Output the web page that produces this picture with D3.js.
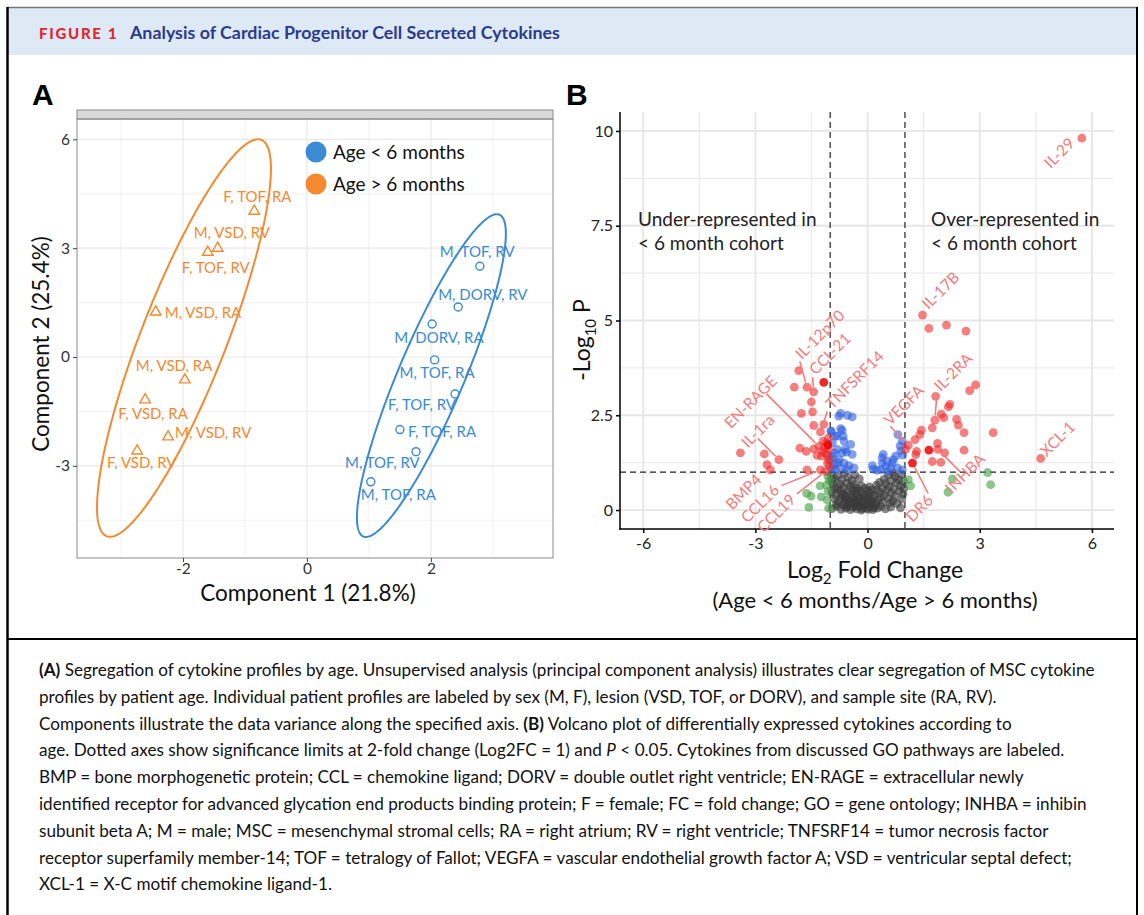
<!DOCTYPE html>
<html>
<head>
<meta charset="utf-8">
<script src="https://cdn.jsdelivr.net/npm/d3@7"></script>
<style>
  body { margin: 0; background: #fff; }
  svg { display: block; }
</style>
</head>
<body>
<div id="fig"></div>
<script>
// ---------- panel A data (PCA scores) ----------
const groups = ["Age < 6 months", "Age > 6 months"];
const groupColors = ["#3a8bd3", "#f4892f"];

const youngLabels = ["M, TOF, RV", "M, DORV, RV", "M, DORV, RA", "M, TOF, RA", "F, TOF, RV", "F, TOF, RA", "M, TOF, RV", "M, TOF, RA"];
const youngPC1 = [2.79, 2.44, 2.02, 2.06, 2.39, 1.50, 1.76, 1.03];
const youngPC2 = [2.50, 1.38, 0.91, -0.08, -1.02, -2.00, -2.61, -3.44];

const oldLabels = ["F, TOF, RA", "M, VSD, RV", "F, TOF, RV", "M, VSD, RA", "M, VSD, RA", "F, VSD, RA", "M, VSD, RV", "F, VSD, RV"];
const oldPC1 = [-0.85, -1.44, -1.60, -2.44, -1.97, -2.61, -2.24, -2.74];
const oldPC2 = [4.02, 3.00, 2.89, 1.24, -0.63, -1.18, -2.20, -2.59];

// confidence ellipses: centre x, centre y, conjugate semi-axis A (x, y), semi-axis B (x)
const youngEllipse = [2.008, -0.512, 1.056, 4.448, 0.573];
const oldEllipse = [-1.984, 0.523, 1.194, 5.478, 0.737];

const pcaXTicks = [-2, 0, 2];
const pcaYTicks = [-3, 0, 3, 6];

// ---------- panel B data (volcano: log2FC, -log10 P) ----------
const redPoints = [
  [-1.84,3.68],[-1.96,3.24],[-1.62,3.24],[-1.44,3.12],[-1.50,2.85],[-1.77,2.55],[-1.47,2.59],
  [-1.44,2.23],[-1.17,2.26],[-1.26,2.06],[-1.10,1.77],[-1.19,1.82],[-1.81,1.63],[-1.64,1.55],
  [-1.44,1.61],[-1.30,1.68],[-1.21,1.55],[-1.35,1.44],[-1.23,1.42],[-1.13,1.51],[-1.04,1.61],
  [-3.40,1.51],[-2.76,1.48],[-2.37,1.33],[-2.69,1.20],[-2.60,1.06],[-1.62,1.06],[-1.26,1.06],
  [-1.12,1.02],[-1.04,1.33],[-1.07,1.24],[-1.05,1.90],[-1.15,1.65],[-1.08,1.45],[-1.02,1.15],
  [1.47,5.14],[1.64,4.79],[2.11,4.88],[2.63,4.72],[2.89,3.30],[2.73,3.15],[1.82,3.00],[2.20,2.79],
  [2.16,2.72],[1.97,2.53],[2.04,2.44],[2.38,2.39],[2.43,2.24],[1.80,2.37],[1.73,2.17],[1.44,2.11],
  [1.40,1.99],[2.58,2.04],[3.36,2.04],[1.27,1.86],[1.09,1.71],[1.87,1.76],[1.88,1.60],
  [2.06,1.51],[2.58,1.58],[1.31,1.55],[1.29,1.46],[1.73,1.28],[1.96,1.26],[1.02,1.60],[4.63,1.36],
  [5.73,9.81]
];
const darkRedPoints = [[-1.17,3.37],[-1.06,1.72],[1.64,1.58],[1.20,1.24]];
const bluePoints = [
  [-0.72,2.55],[-0.54,2.50],[-0.41,2.46],[-0.97,2.07],[-0.68,2.10],[-0.86,1.95],[-0.94,1.77],
  [-0.63,1.82],[-0.45,1.73],[-0.81,1.60],[-0.68,1.51],[-0.56,1.53],[-0.41,1.47],[-0.94,1.42],
  [-0.76,1.33],[-0.63,1.24],[-0.50,1.17],[-0.90,1.20],[-0.99,1.33],[-0.72,1.11],[-0.54,1.06],
  [-0.86,1.06],[-0.36,1.11],[-0.98,2.09],[-0.72,2.15],[-0.65,1.95],[-0.81,1.95],[-0.77,2.48],
  [-0.60,1.60],[-0.88,1.50],[-0.80,1.25],[-0.95,1.10],
  [0.81,1.99],[0.93,1.82],[0.87,1.69],[0.89,1.56],[0.75,1.42],[0.39,1.38],[0.53,1.29],[0.66,1.24],
  [0.39,1.24],[0.13,1.17],[0.48,1.15],[0.62,1.11],[0.35,1.06],[0.80,1.11],[0.93,1.06],[0.53,1.02],
  [0.94,1.45],[0.69,1.33],[0.42,1.47],[0.15,1.08],[0.25,1.05]
];
const greenPoints = [
  [-1.63,0.44],[-1.51,0.37],[-1.27,0.64],[-1.24,0.35],[-1.57,0.07],[-1.06,0.89],[-1.10,0.66],
  [-1.06,0.49],[-1.08,0.27],[-1.04,0.05],[-1.02,0.78],
  [1.09,0.80],[1.15,0.64],[2.27,0.82],[2.15,0.47],[3.21,0.99],[3.29,0.67]
];
const grayPoints = [
  [-0.95,0.04],[-0.82,0.10],[-0.71,0.02],[-0.64,0.12],[-0.58,0.05],[-0.51,0.14],[-0.46,0.01],
  [-0.40,0.08],[-0.35,0.15],[-0.29,0.03],[-0.22,0.11],[-0.17,0.00],[-0.11,0.07],[-0.05,0.13],
  [0.02,0.02],[0.08,0.09],[0.14,0.01],[0.21,0.12],[0.27,0.05],[0.36,0.10],[0.48,0.03],[0.62,0.08],
  [0.88,0.06],[-0.31,0.09],[-0.02,0.05],[0.17,0.06],[-0.55,0.09],[-0.26,0.14],[0.05,0.14],[-0.14,0.04],
  [-0.90,0.30],[-0.77,0.22],[-0.69,0.33],[-0.62,0.19],[-0.57,0.27],[-0.50,0.21],[-0.44,0.32],
  [-0.38,0.18],[-0.33,0.26],[-0.27,0.20],[-0.21,0.31],[-0.15,0.17],[-0.09,0.25],[-0.03,0.19],
  [0.03,0.28],[0.09,0.21],[0.15,0.33],[0.22,0.18],[0.29,0.27],[0.41,0.20],[0.55,0.31],[0.68,0.24],
  [0.79,0.17],[0.92,0.29],[-0.47,0.25],[-0.12,0.30],[0.12,0.24],[-0.36,0.33],[-0.60,0.35],
  [0.35,0.34],[-0.24,0.24],[0.00,0.34],[0.61,0.19],[-0.83,0.16],
  [-0.96,0.48],[-0.85,0.40],[-0.74,0.52],[-0.66,0.44],[-0.59,0.38],[-0.52,0.49],[-0.45,0.41],
  [-0.39,0.54],[-0.32,0.45],[-0.26,0.37],[-0.19,0.50],[-0.13,0.42],[-0.06,0.38],[0.01,0.51],
  [0.07,0.44],[0.18,0.40],[0.26,0.53],[0.33,0.46],[0.45,0.39],[0.51,0.52],[0.64,0.45],[0.73,0.37],
  [0.85,0.50],[0.95,0.42],[-0.70,0.40],[-0.28,0.52],[0.12,0.53],
  [-0.93,0.70],[-0.81,0.60],[-0.73,0.68],[-0.64,0.58],[-0.55,0.71],[-0.47,0.62],[-0.37,0.67],
  [-0.30,0.59],[-0.16,0.64],[-0.08,0.57],[0.05,0.61],[0.24,0.66],[0.40,0.58],[0.49,0.70],
  [0.58,0.62],[0.70,0.56],[0.77,0.72],[0.88,0.63],[0.97,0.57],[-0.88,0.56],[0.32,0.73],
  [-0.97,0.94],[-0.89,0.83],[-0.79,0.91],[-0.70,0.79],[-0.62,0.97],[-0.53,0.86],[-0.42,0.78],
  [-0.34,0.93],[-0.22,0.82],[0.44,0.81],[0.56,0.93],[0.63,0.77],[0.74,0.88],[0.83,0.80],
  [0.91,0.95],[0.96,0.76],[-0.95,0.78],[0.69,0.98]
];

// labelled cytokines
const geneNames = ["IL-29", "IL-17B", "IL-12p70", "CCL-21", "TNFSRF14", "EN-RAGE", "IL-1ra", "BMP4", "CCL16", "CCL19", "VEGFA", "IL-2RA", "XCL-1", "INHBA", "DR6"];
const geneFC = [5.73, 1.47, -1.62, -1.44, -1.26, -1.30, -2.37, -2.60, -1.26, -1.12, 1.09, 1.80, 4.63, 1.88, 1.20];
const geneLogP = [9.81, 5.14, 3.24, 3.12, 2.06, 1.68, 1.33, 1.06, 1.06, 1.02, 1.71, 2.37, 1.36, 1.60, 1.24];

const volcanoXTicks = [-6, -3, 0, 3, 6];
const volcanoYTicks = [0, 2.5, 5, 7.5, 10];

// where each label sits (pixel shift of text start from its point)
const labelShift = [[-31,31],[6,-5],[-5,-27],[2,-16],[12,-22],[-88,-17],[-31,-11],[-38,41],[-73,54],[-62,62],[-18,-19],[6,-28],[6,-1],[14,45],[0,60]];

// caption
const captionLines = [
  [["(A)", "b"], [" Segregation of cytokine profiles by age. Unsupervised analysis (principal component analysis) illustrates clear segregation of MSC cytokine"]],
  [["profiles by patient age. Individual patient profiles are labeled by sex (M, F), lesion (VSD, TOF, or DORV), and sample site (RA, RV)."]],
  [["Components illustrate the data variance along the specified axis. "], ["(B)", "b"], [" Volcano plot of differentially expressed cytokines according to"]],
  [["age. Dotted axes show significance limits at 2-fold change (Log2FC = 1) and "], ["P", "i"], [" < 0.05. Cytokines from discussed GO pathways are labeled."]],
  [["BMP = bone morphogenetic protein; CCL = chemokine ligand; DORV = double outlet right ventricle; EN-RAGE = extracellular newly"]],
  [["identified receptor for advanced glycation end products binding protein; F = female; FC = fold change; GO = gene ontology; INHBA = inhibin"]],
  [["subunit beta A; M = male; MSC = mesenchymal stromal cells; RA = right atrium; RV = right ventricle; TNFSRF14 = tumor necrosis factor"]],
  [["receptor superfamily member-14; TOF = tetralogy of Fallot; VEGFA = vascular endothelial growth factor A; VSD = ventricular septal defect;"]],
  [["XCL-1 = X-C motif chemokine ligand-1."]]
];

// ---------- drawing ----------
const W = 1144, H = 915;
const FONT = "Lato, 'Open Sans', sans-serif";
const svg = d3.select("#fig").append("svg").attr("width", W).attr("height", H)
  .style("font-family", FONT);

// frame + header
svg.append("rect").attr("x", 8).attr("y", 8).attr("width", 1129).attr("height", 47).attr("fill", "#dde9f5");
svg.append("line").attr("x1", 7).attr("x2", 1138).attr("y1", 7.5).attr("y2", 7.5).attr("stroke", "#777").attr("stroke-width", 1.5);
svg.append("line").attr("x1", 7.5).attr("x2", 7.5).attr("y1", 7).attr("y2", H).attr("stroke", "#000").attr("stroke-width", 2.5);
svg.append("line").attr("x1", 1137).attr("x2", 1137).attr("y1", 7).attr("y2", H).attr("stroke", "#000").attr("stroke-width", 2);
svg.append("line").attr("x1", 7).attr("x2", 1138).attr("y1", 639).attr("y2", 639).attr("stroke", "#000").attr("stroke-width", 2);

svg.append("text").attr("x", 39).attr("y", 39)
  .attr("fill", "#e4262d").style("font-weight", 900).style("font-size", "15px").style("letter-spacing", "1.7px")
  .text("FIGURE 1");
const title = svg.append("text").attr("x", 130).attr("y", 39)
  .attr("fill", "#2d3a8c").style("font-weight", 700).style("font-size", "16px")
  .text("Analysis of Cardiac Progenitor Cell Secreted Cytokines");
title.style("font-size", (16 * 430 / title.node().getComputedTextLength()) + "px");

// panel letters
svg.append("text").attr("x", 32).attr("y", 105).style("font-family", "'Liberation Sans', Arial, sans-serif")
  .style("font-weight", 700).style("font-size", "30px").text("A");
svg.append("text").attr("x", 566).attr("y", 105).style("font-family", "'Liberation Sans', Arial, sans-serif")
  .style("font-weight", 700).style("font-size", "30px").text("B");

// ===== Panel A =====
const ax = d3.scaleLinear().domain([-3.71, 3.97]).range([77, 553]);
const ay = d3.scaleLinear().domain([-5.54, 6.56]).range([558, 119]);
const gA = svg.append("g");

// grid
const minorX = [-3, -1, 1, 3], minorY = [-4.5, -1.5, 1.5, 4.5];
gA.selectAll(".mnx").data(minorX).join("line")
  .attr("x1", d => ax(d)).attr("x2", d => ax(d)).attr("y1", 119).attr("y2", 558)
  .attr("stroke", "#f1f1f1").attr("stroke-width", 0.9);
gA.selectAll(".mny").data(minorY).join("line")
  .attr("y1", d => ay(d)).attr("y2", d => ay(d)).attr("x1", 77).attr("x2", 553)
  .attr("stroke", "#f1f1f1").attr("stroke-width", 0.9);
gA.selectAll(".mjx").data(pcaXTicks).join("line")
  .attr("x1", d => ax(d)).attr("x2", d => ax(d)).attr("y1", 119).attr("y2", 558)
  .attr("stroke", "#e8e8e8").attr("stroke-width", 1.2);
gA.selectAll(".mjy").data(pcaYTicks).join("line")
  .attr("y1", d => ay(d)).attr("y2", d => ay(d)).attr("x1", 77).attr("x2", 553)
  .attr("stroke", "#e8e8e8").attr("stroke-width", 1.2);

// strip + border
gA.append("rect").attr("x", 77).attr("y", 110).attr("width", 476).attr("height", 9)
  .attr("fill", "#d9d9d9").attr("stroke", "#8a8a8a").attr("stroke-width", 1);
gA.append("rect").attr("x", 77).attr("y", 119).attr("width", 476).attr("height", 439)
  .attr("fill", "none").attr("stroke", "#8a8a8a").attr("stroke-width", 1);

// axes
const axA_y = gA.append("g").attr("transform", "translate(77,0)")
  .call(d3.axisLeft(ay).tickValues(pcaYTicks).tickSize(4).tickPadding(3));
const axA_x = gA.append("g").attr("transform", "translate(0,558)")
  .call(d3.axisBottom(ax).tickValues(pcaXTicks).tickSize(4).tickPadding(1));
[axA_y, axA_x].forEach(g => {
  g.select(".domain").remove();
  g.selectAll("line").attr("stroke", "#444");
  g.selectAll("text").attr("fill", "#333").style("font-size", "15.5px").style("font-family", FONT)
    .text(d => d < 0 ? "-" + Math.abs(d) : d);
});

// ellipses
function ellipsePath(e) {
  const ts = d3.range(0, 2 * Math.PI + 0.01, 0.02);
  return d3.line()
    .x(t => ax(e[0] + e[2] * Math.cos(t) + e[4] * Math.sin(t)))
    .y(t => ay(e[1] + e[3] * Math.cos(t)))(ts);
}
gA.append("path").attr("d", ellipsePath(youngEllipse)).attr("fill", "none")
  .attr("stroke", groupColors[0]).attr("stroke-width", 2);
gA.append("path").attr("d", ellipsePath(oldEllipse)).attr("fill", "none")
  .attr("stroke", groupColors[1]).attr("stroke-width", 2);

// points
gA.selectAll(".yp").data(youngPC1).join("circle")
  .attr("cx", d => ax(d)).attr("cy", (d, i) => ay(youngPC2[i])).attr("r", 4)
  .attr("fill", "none").attr("stroke", groupColors[0]).attr("stroke-width", 1.4);
const tri = d3.symbol(d3.symbolTriangle, 48);
gA.selectAll(".op").data(oldPC1).join("path")
  .attr("d", tri).attr("transform", (d, i) => `translate(${ax(d)},${ay(oldPC2[i])})`)
  .attr("fill", "none").attr("stroke", groupColors[1]).attr("stroke-width", 1.4);

// point labels (dx, dy from the point to text start)
const youngShift = [[-40,-9],[-20,-7],[-38,19],[-35,18],[-67,16],[8,7],[-71,16],[-10,18]];
const oldShift = [[-31,-9],[-24,-10],[-26,21],[9,6],[-49,-9],[-27,19],[7,1],[-30,17]];
gA.selectAll(".yl").data(youngLabels).join("text")
  .attr("x", (d, i) => ax(youngPC1[i]) + youngShift[i][0])
  .attr("y", (d, i) => ay(youngPC2[i]) + youngShift[i][1])
  .attr("fill", groupColors[0]).style("font-size", "15px").text(d => d);
gA.selectAll(".ol").data(oldLabels).join("text")
  .attr("x", (d, i) => ax(oldPC1[i]) + oldShift[i][0])
  .attr("y", (d, i) => ay(oldPC2[i]) + oldShift[i][1])
  .attr("fill", groupColors[1]).style("font-size", "15px").text(d => d);

// legend
groups.forEach((g, i) => {
  gA.append("circle").attr("cx", 316).attr("cy", 152 + i * 32).attr("r", 10.5).attr("fill", groupColors[i]);
  gA.append("text").attr("x", 333).attr("y", 158.5 + i * 32).style("font-size", "19px").attr("fill", "#111").text(g);
});

// axis titles
gA.append("text").attr("x", 308).attr("y", 601).attr("text-anchor", "middle")
  .style("font-size", "22.5px").attr("fill", "#111").text("Component 1 (21.8%)");
gA.append("text").attr("transform", "translate(49,344) rotate(-90)").attr("text-anchor", "middle")
  .style("font-size", "22.5px").attr("fill", "#111").text("Component 2 (25.4%)");

// ===== Panel B =====
const bx = d3.scaleLinear().domain([-6.62, 6.59]).range([620, 1114]);
const by = d3.scaleLinear().domain([-0.5, 10.5]).range([529, 112]);
const gB = svg.append("g");

const bMinorX = [-4.5, -1.5, 1.5, 4.5], bMinorY = [1.25, 3.75, 6.25, 8.75];
gB.selectAll(".bmx").data(bMinorX).join("line")
  .attr("x1", d => bx(d)).attr("x2", d => bx(d)).attr("y1", 112).attr("y2", 529)
  .attr("stroke", "#ececec").attr("stroke-width", 1.3);
gB.selectAll(".bmy").data(bMinorY).join("line")
  .attr("y1", d => by(d)).attr("y2", d => by(d)).attr("x1", 620).attr("x2", 1114)
  .attr("stroke", "#ececec").attr("stroke-width", 1.3);
gB.selectAll(".bjx").data(volcanoXTicks).join("line")
  .attr("x1", d => bx(d)).attr("x2", d => bx(d)).attr("y1", 112).attr("y2", 529)
  .attr("stroke", "#e6e6e6").attr("stroke-width", 1.8);
gB.selectAll(".bjy").data(volcanoYTicks).join("line")
  .attr("y1", d => by(d)).attr("y2", d => by(d)).attr("x1", 620).attr("x2", 1114)
  .attr("stroke", "#e6e6e6").attr("stroke-width", 1.8);

// threshold lines
[-1, 1].forEach(v => gB.append("line").attr("x1", bx(v)).attr("x2", bx(v)).attr("y1", 112).attr("y2", 529)
  .attr("stroke", "#222").attr("stroke-width", 1.2).attr("stroke-dasharray", "6,4"));
gB.append("line").attr("x1", 620).attr("x2", 1114).attr("y1", by(1)).attr("y2", by(1))
  .attr("stroke", "#222").attr("stroke-width", 1.2).attr("stroke-dasharray", "6,4");

// points
function dots(data, color, op) {
  gB.append("g").selectAll("circle").data(data).join("circle")
    .attr("cx", d => bx(d[0])).attr("cy", d => by(d[1])).attr("r", 4.4)
    .attr("fill", color).attr("fill-opacity", op);
}
dots(grayPoints, "#3a3a3a", 0.6);
dots(greenPoints, "#3f9e3f", 0.6);
dots(bluePoints, "#2f5fe0", 0.6);
dots(redPoints, "#ee2a2a", 0.6);
dots(darkRedPoints, "#ee0000", 0.85);

// axes
const axB_y = gB.append("g").attr("transform", "translate(620,0)")
  .call(d3.axisLeft(by).tickValues(volcanoYTicks).tickSize(4).tickPadding(3).tickFormat(d => d));
const axB_x = gB.append("g").attr("transform", "translate(0,529)")
  .call(d3.axisBottom(bx).tickValues(volcanoXTicks).tickSize(4).tickPadding(5).tickFormat(d => d < 0 ? "-" + Math.abs(d) : d));
[axB_y, axB_x].forEach(g => {
  g.select(".domain").remove();
  g.selectAll("line").attr("stroke", "#000").attr("stroke-width", 1.5);
  g.selectAll("text").attr("fill", "#222").style("font-size", "16px").style("font-family", FONT);
});
gB.append("line").attr("x1", 620).attr("x2", 620).attr("y1", 112).attr("y2", 529.7).attr("stroke", "#000").attr("stroke-width", 1.5);
gB.append("line").attr("x1", 619.3).attr("x2", 1114).attr("y1", 529).attr("y2", 529).attr("stroke", "#000").attr("stroke-width", 1.5);

// labels with leader lines
const c45 = Math.SQRT1_2;
const gLab = gB.append("g");
geneNames.forEach((name, i) => {
  const px = bx(geneFC[i]), py = by(geneLogP[i]);
  const sx = px + labelShift[i][0], sy = py + labelShift[i][1];
  const t = gLab.append("text").attr("transform", `translate(${sx},${sy}) rotate(-45)`)
    .attr("fill", "#f47c7c").style("font-size", "15.5px").text(name);
  const len = t.node().getComputedTextLength();
  // centre line of the rotated text
  const ox = sx - 5 * c45, oy = sy - 5 * c45;
  let s = ((px - ox) * c45 - (py - oy) * c45);
  s = Math.max(0, Math.min(len, s));
  const qx = ox + s * c45, qy = oy - s * c45;
  const dist = Math.hypot(qx - px, qy - py);
  if (dist > 14) {
    const ux = (qx - px) / dist, uy = (qy - py) / dist;
    gLab.append("line").attr("x1", px + ux * 5).attr("y1", py + uy * 5)
      .attr("x2", qx - ux * 5).attr("y2", qy - uy * 5)
      .attr("stroke", "#f47c7c").attr("stroke-width", 1.6);
  }
});

// region annotations
const ann = [["Under-represented in", "< 6 month cohort", 638], ["Over-represented in", "< 6 month cohort", 931]];
ann.forEach(a => {
  gB.append("text").attr("x", a[2]).attr("y", 226).style("font-size", "19px").attr("fill", "#222").text(a[0]);
  gB.append("text").attr("x", a[2]).attr("y", 250).style("font-size", "19px").attr("fill", "#222").text(a[1]);
});

// axis titles
const xt = gB.append("text").attr("x", 875).attr("y", 578).attr("text-anchor", "middle")
  .style("font-size", "23px").attr("fill", "#111");
xt.append("tspan").text("Log");
xt.append("tspan").attr("dy", 6).style("font-size", "15px").text("2");
xt.append("tspan").attr("dy", -6).text(" Fold Change");
gB.append("text").attr("x", 875).attr("y", 608).attr("text-anchor", "middle")
  .style("font-size", "22px").attr("fill", "#111").text("(Age < 6 months/Age > 6 months)");
const yt = gB.append("text").attr("transform", "translate(590,340) rotate(-90)").attr("text-anchor", "middle")
  .style("font-size", "23px").attr("fill", "#111");
yt.append("tspan").text("-Log");
yt.append("tspan").attr("dy", 6).style("font-size", "15px").text("10");
yt.append("tspan").attr("dy", -6).text(" P");

// ===== caption =====
const gC = svg.append("g").attr("fill", "#111");
const capNodes = captionLines.map((segs, i) => {
  const t = gC.append("text").attr("x", 39).attr("y", 676 + i * 26.8).style("font-size", "17px");
  segs.forEach(s => {
    const sp = t.append("tspan").text(s[0]);
    if (s[1] === "b") sp.style("font-weight", 700);
    if (s[1] === "i") sp.style("font-style", "italic");
  });
  return t;
});
// fit the first line to its width in the figure and use that size for all lines
const w0 = capNodes[0].node().getComputedTextLength();
const capSize = 17 * 1056 / w0;
capNodes.forEach(t => t.style("font-size", capSize + "px"));
</script>
</body>
</html>
